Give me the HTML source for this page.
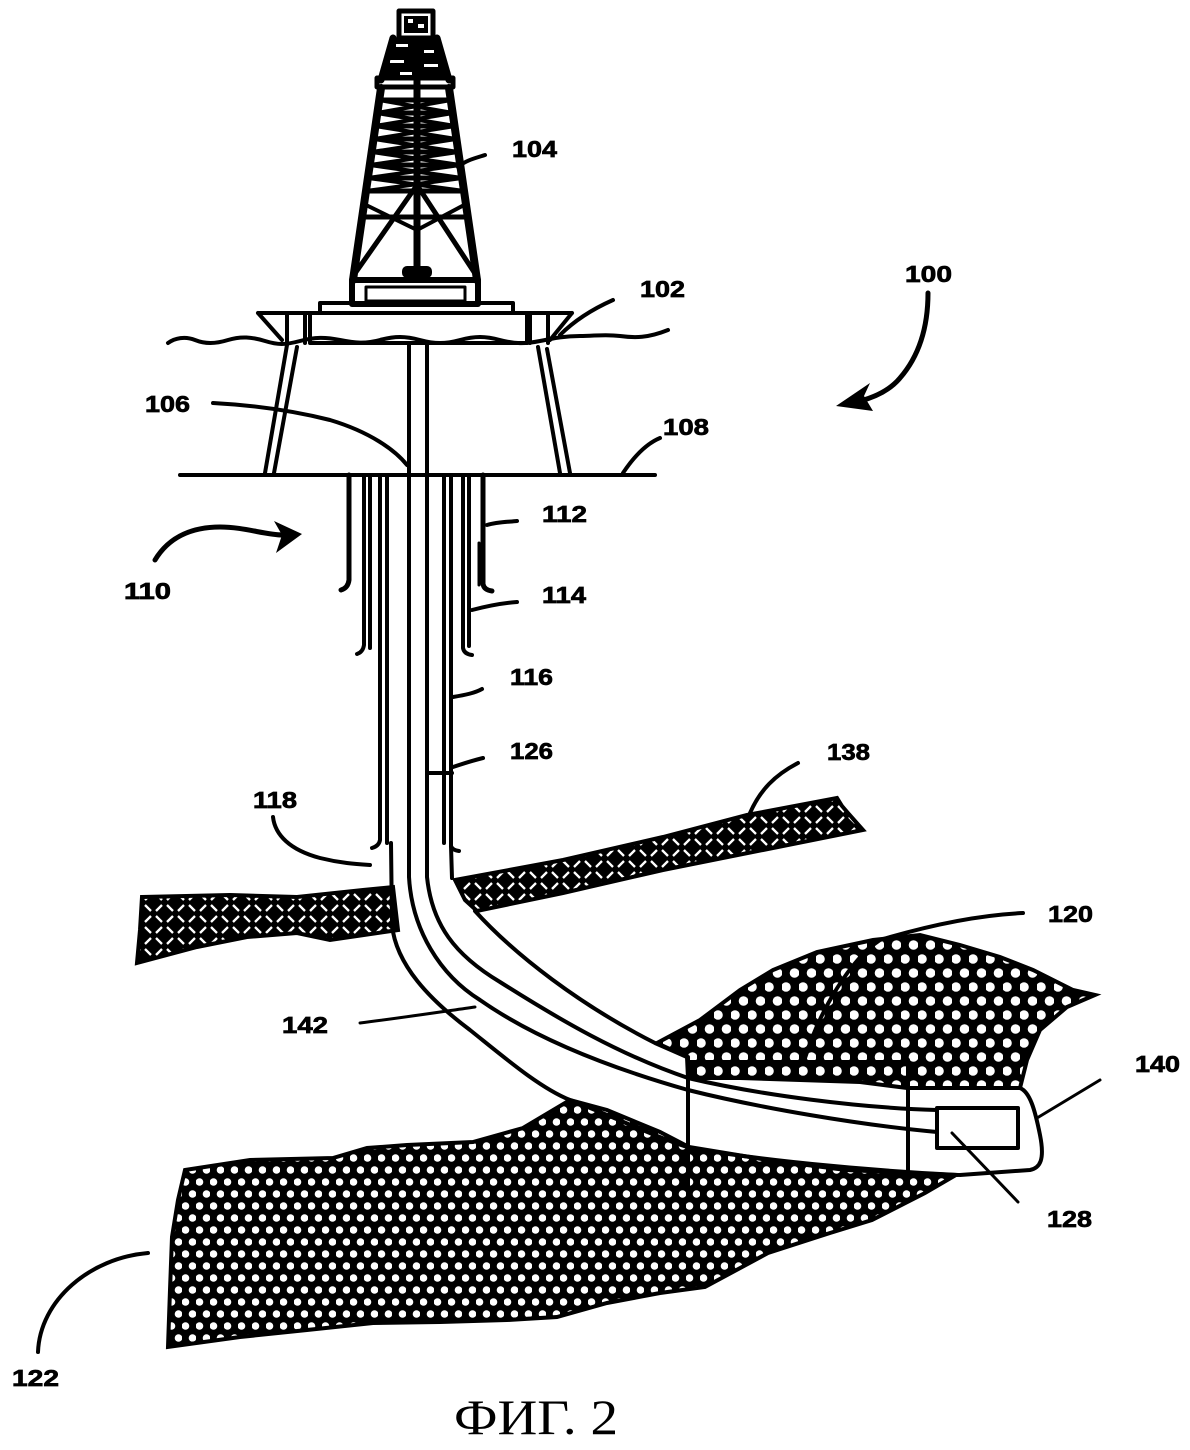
<!DOCTYPE html>
<html><head><meta charset="utf-8"><style>
html,body{margin:0;padding:0;background:#fff;}
svg{display:block;}
.lb{font-family:"Liberation Sans",Arial,sans-serif;font-weight:bold;font-size:23px;fill:#000;stroke:#000;stroke-width:0.7;}
</style></head><body>
<svg width="1190" height="1450" viewBox="0 0 1190 1450" xmlns="http://www.w3.org/2000/svg">
<defs>
<pattern id="dots" width="14" height="24" patternUnits="userSpaceOnUse">
<rect width="14" height="24" fill="#000"/>
<circle cx="3.5" cy="6" r="3.8" fill="#fff"/>
<circle cx="10.5" cy="18" r="3.8" fill="#fff"/>
</pattern>
<pattern id="dots2" width="17" height="28" patternUnits="userSpaceOnUse">
<rect width="17" height="28" fill="#000"/>
<circle cx="4" cy="7" r="4.8" fill="#fff"/>
<circle cx="12.5" cy="21" r="4.8" fill="#fff"/>
</pattern>
<pattern id="hatch" width="22" height="22" patternUnits="userSpaceOnUse">
<rect width="22" height="22" fill="#000"/>
<path d="M2,9 L8,3 M13,20 L19,14" stroke="#fff" stroke-width="2.3"/>
<path d="M13,3 L19,9 M2,14 L8,20" stroke="#fff" stroke-width="2.3"/>
</pattern>
</defs>
<rect width="1190" height="1450" fill="#fff"/>

<!-- formations -->
<path d="M185,1170 L250,1160 L333,1158 L367,1148 L407,1145 L473,1142 L523,1128 L570,1100 L607,1110 L660,1132 L689,1147 L768,1160 L846,1170 L956,1175 L925,1193 L872,1220 L830,1233 L768,1253 L705,1287 L660,1293 L607,1303 L557,1317 L507,1320 L440,1322 L373,1323 L307,1330 L240,1337 L168,1347 L170,1290 L172,1237 L178,1200 Z" fill="url(#dots)" stroke="#000" stroke-width="4"/>
<path d="M657,1043 L700,1020 L740,990 L773,970 L817,952 L873,940 L920,935 L960,945 L1000,957 L1033,970 L1073,990 L1095,995 L1067,1007 L1040,1030 L1027,1060 L1020,1088 L907,1088 L860,1082 L800,1080 L740,1078 L688,1078 L687,1057 Z" fill="url(#dots2)" stroke="#000" stroke-width="4"/>
<path d="M142,897 L230,895 L297,897 L363,890 L393,887 L398,930 L330,940 L297,933 L247,937 L197,947 L137,963 L140,930 Z" fill="url(#hatch)" stroke="#000" stroke-width="4"/>
<path d="M455,880 L563,860 L663,837 L747,815 L837,798 L842,806 L848,813 L855,821 L863,830 L763,850 L663,870 L563,893 L477,911 L465,900 Z" fill="url(#hatch)" stroke="#000" stroke-width="4"/>

<g stroke="#000" fill="none" stroke-linecap="round" stroke-linejoin="round">
<!-- derrick -->
<rect x="399" y="11" width="34" height="27" stroke-width="5"/>
<rect x="404" y="16" width="24" height="17" fill="#000" stroke="none"/>
<rect x="408" y="19" width="5" height="4" fill="#fff" stroke="none"/>
<rect x="418" y="24" width="6" height="4" fill="#fff" stroke="none"/>
<polygon points="393,38 437,38 449,80 381,80" fill="#000" stroke="none"/>
<rect x="396" y="44" width="12" height="3" fill="#fff" stroke="none"/>
<rect x="424" y="50" width="10" height="3" fill="#fff" stroke="none"/>
<rect x="390" y="60" width="14" height="3" fill="#fff" stroke="none"/>
<rect x="424" y="64" width="14" height="3" fill="#fff" stroke="none"/>
<rect x="400" y="72" width="12" height="3" fill="#fff" stroke="none"/>
<path d="M393,38 L381,80 M437,38 L449,80" stroke-width="7"/>
<rect x="377" y="78" width="76" height="9" stroke-width="5"/>
<path d="M381,88 L353,280 M449,88 L477,280" stroke-width="8"/>
<path d="M379,100 L451,100 M377,113 L453,113 M375,126 L455,126 M374,139 L456,139 M372,152 L458,152 M370,165 L460,165 M368,178 L462,178 M366,191 L464,191 M362,217 L468,217" stroke-width="5"/>
<path d="M379,100 L453,113 M451,100 L377,113 M377,113 L455,126 M453,113 L375,126 M375,126 L456,139 M455,126 L374,139 M374,139 L458,152 M456,139 L372,152 M372,152 L460,165 M458,152 L370,165 M370,165 L462,178 M460,165 L368,178 M368,178 L464,191 M462,178 L366,191" stroke-width="4"/>
<path d="M356,272 L417,185 L474,272" stroke-width="5"/>
<path d="M364,204 L417,230 L466,204" stroke-width="4"/>
<path d="M417,40 L417,268" stroke-width="7"/>
<rect x="403" y="267" width="28" height="10" rx="4" fill="#000" stroke-width="2"/>
<rect x="352" y="280" width="126" height="24" stroke-width="6"/>
<rect x="366" y="287" width="99" height="14" stroke-width="3"/>
<path d="M458,167 C466,160 476,158 485,155" stroke-width="4"/>

<!-- deck -->
<rect x="320" y="303" width="193" height="10" stroke-width="4"/>
<rect x="310" y="313" width="217" height="30" stroke-width="4"/>
<path d="M258,313 L310,313 M258,313 L282,340 M287,313 L287,343 M305,313 L305,343" stroke-width="4"/>
<path d="M527,313 L572,313 M572,313 L550,340 M548,313 L548,343 M530,313 L530,343" stroke-width="4"/>
<path d="M168,343 C175,338 185,336 195,340 S215,344 228,340 S252,337 265,341 S285,345 300,341 S325,337 340,340 S365,344 380,340 S405,336 420,340 S445,344 460,340 S485,336 500,340 S525,344 540,341 S565,336 580,336 S605,334 620,336 S648,338 668,330" stroke-width="4"/>
<path d="M560,335 C575,320 595,308 613,300" stroke-width="4"/>
<!-- platform legs -->
<path d="M287,345 L265,473 M297,347 L274,473" stroke-width="4"/>
<path d="M538,347 L560,473 M547,349 L570,473" stroke-width="4"/>
<!-- seafloor -->
<path d="M180,475 L655,475" stroke-width="4"/>
<path d="M213,403 C250,405 290,410 330,420 C370,432 395,450 407,465" stroke-width="4"/>
<path d="M623,473 C635,455 648,443 660,438" stroke-width="4"/>

<!-- casings -->
<path d="M349,475 L349,580 Q348,588 341,590" stroke-width="5"/>
<path d="M483,475 L483,584 Q484,590 492,591" stroke-width="5"/>
<path d="M479,543 L479,585" stroke-width="3"/>
<path d="M364,475 L364,645 Q363,652 357,654 M370,475 L370,648" stroke-width="4"/>
<path d="M463,475 L463,648 Q464,654 472,655 M469,475 L469,646" stroke-width="4"/>
<path d="M380,475 L380,840 Q379,846 372,848 M387,475 L387,843" stroke-width="4"/>
<path d="M444,475 L444,843 M451,475 L451,846 Q452,850 459,851" stroke-width="4"/>
<path d="M487,525 C497,522 507,522 517,521" stroke-width="4"/>
<path d="M472,610 C487,606 502,603 517,602" stroke-width="4"/>
<path d="M453,697 C465,695 475,693 482,689" stroke-width="4"/>
<path d="M427,773 L452,773" stroke-width="4"/>
<path d="M453,767 C465,763 475,760 483,758" stroke-width="4"/>

<!-- wellbore -->
<path d="M391,843 L392,925 C396,965 430,1000 470,1030 C505,1058 540,1088 570,1100 C610,1115 650,1135 690,1148 C760,1160 860,1170 958,1175" stroke-width="4"/>
<path d="M451,846 L452,878" stroke-width="4"/>
<path d="M475,911 C515,955 580,1005 655,1043 L687,1057" stroke-width="4"/>
<path d="M409,343 L409,877 C412,930 440,975 480,1000 C530,1035 600,1065 688,1090 C760,1108 860,1125 937,1132" stroke-width="4"/>
<path d="M427,343 L427,877 C432,925 455,955 500,982 C560,1020 620,1055 688,1078 C760,1095 860,1108 937,1110" stroke-width="4"/>
<rect x="937" y="1108" width="81" height="40" stroke-width="4" fill="#fff"/>
<path d="M1020,1088 C1030,1092 1035,1110 1040,1135 C1045,1160 1040,1168 1030,1170 L960,1175" stroke-width="4"/>
<path d="M688,1057 L688,1190 M908,1060 L908,1175 M688,1062 L908,1062" stroke-width="4"/>

<!-- leaders -->
<path d="M750,813 C760,790 775,775 798,763" stroke-width="4"/>
<path d="M273,817 C275,835 290,850 320,858 C340,863 355,864 370,865" stroke-width="4"/>
<path d="M1023,913 C980,915 930,925 880,940 C850,960 820,1010 805,1058" stroke-width="4"/>
<path d="M360,1023 C400,1018 440,1012 475,1007" stroke-width="3"/>
<path d="M1037,1118 L1100,1080" stroke-width="3"/>
<path d="M952,1133 L1018,1202" stroke-width="3"/>
<path d="M38,1352 C40,1300 90,1258 148,1253" stroke-width="4"/>
<!-- arrows -->
<path d="M155,560 C170,535 195,527 220,527 C245,527 265,535 283,535" stroke-width="5"/>
<path d="M928,293 C928,325 920,355 900,378 C890,390 875,397 860,401" stroke-width="5"/>
</g>
<polygon points="302,534 274,521 282,535 276,553" fill="#000"/>
<polygon points="836,406 870,383 864,396 873,411" fill="#000"/>

<!-- labels -->
<text class="lb" x="512" y="157" textLength="45" lengthAdjust="spacingAndGlyphs">104</text>
<text class="lb" x="640" y="297" textLength="45" lengthAdjust="spacingAndGlyphs">102</text>
<text class="lb" x="905" y="282" textLength="47" lengthAdjust="spacingAndGlyphs">100</text>
<text class="lb" x="145" y="412" textLength="45" lengthAdjust="spacingAndGlyphs">106</text>
<text class="lb" x="663" y="435" textLength="46" lengthAdjust="spacingAndGlyphs">108</text>
<text class="lb" x="542" y="522" textLength="45" lengthAdjust="spacingAndGlyphs">112</text>
<text class="lb" x="124" y="599" textLength="47" lengthAdjust="spacingAndGlyphs">110</text>
<text class="lb" x="542" y="603" textLength="44" lengthAdjust="spacingAndGlyphs">114</text>
<text class="lb" x="510" y="685" textLength="43" lengthAdjust="spacingAndGlyphs">116</text>
<text class="lb" x="510" y="759" textLength="43" lengthAdjust="spacingAndGlyphs">126</text>
<text class="lb" x="827" y="760" textLength="43" lengthAdjust="spacingAndGlyphs">138</text>
<text class="lb" x="253" y="808" textLength="44" lengthAdjust="spacingAndGlyphs">118</text>
<text class="lb" x="1048" y="922" textLength="45" lengthAdjust="spacingAndGlyphs">120</text>
<text class="lb" x="282" y="1033" textLength="46" lengthAdjust="spacingAndGlyphs">142</text>
<text class="lb" x="1135" y="1072" textLength="45" lengthAdjust="spacingAndGlyphs">140</text>
<text class="lb" x="1047" y="1227" textLength="45" lengthAdjust="spacingAndGlyphs">128</text>
<text class="lb" x="12" y="1386" textLength="47" lengthAdjust="spacingAndGlyphs">122</text>
<text x="454" y="1434" font-family="'Liberation Serif','DejaVu Serif',serif" font-size="50" textLength="164" lengthAdjust="spacingAndGlyphs" fill="#000">ФИГ. 2</text>
</svg>
</body></html>
